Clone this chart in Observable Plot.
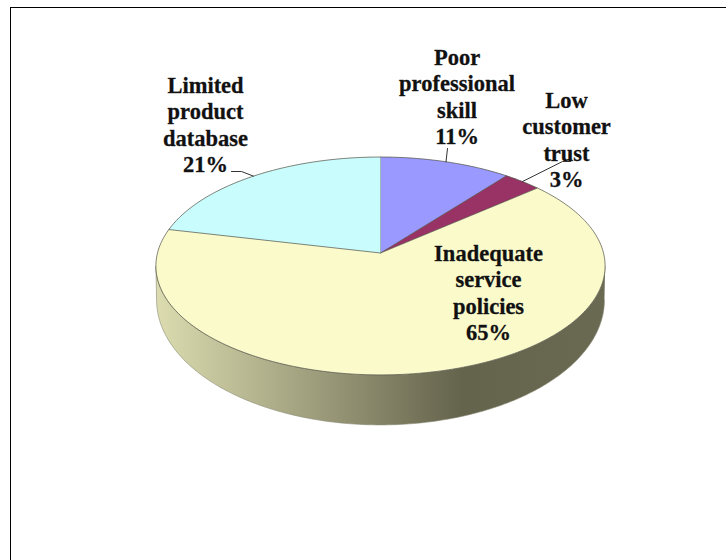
<!DOCTYPE html>
<html>
<head>
<meta charset="utf-8">
<style>html,body{margin:0;padding:0;background:#fff}svg{display:block}</style>
<script src="https://cdn.jsdelivr.net/npm/d3@7"></script>
<script src="https://cdn.jsdelivr.net/npm/@observablehq/plot@0.6"></script>
</head>
<body>
<div id="chart"></div>
<script>
// Data, clockwise from twelve o'clock (printed labels are the rounded shares)
const categories = ["Poor\nprofessional\nskill", "Low\ncustomer\ntrust", "Inadequate\nservice\npolicies", "Limited\nproduct\ndatabase"];
const shares = [10.6, 3.1, 64.9, 21.4];
const sliceColors = ["#9999ff", "#993366", "#fbfacb", "#c9fcfc"];

// Layout: label centres and leader elbows, in the chart's canvas units
const labelX = [456.5, 566, 488, 205];
const labelY = [95.5, 138.5, 291.5, 123.5];
const leaderStart = [[447, 148], [570, 161, 562, 161], null, [231, 171, 241, 171]];

// 3D disc projection
const cx = 380, cy = 252.5, rx = 223, ryk = 107.4, tilt = 0.119, depthFront = 50, depthSide = 34;
const project = (share) => {
  const t = share / 100 * 2 * Math.PI;
  const X = Math.sin(t), Y = Math.cos(t), d = 1 + tilt * Y;
  return [cx + rx * X / d, cy - ryk * Y / d];
};

const cumulative = d3.cumsum(shares);
const sliceRows = categories.flatMap((name, i) => {
  const start = i ? cumulative[i - 1] : 0, end = cumulative[i];
  const pts = [[cx, cy]];
  const n = Math.ceil((end - start) * 4);
  for (let j = 0; j <= n; ++j) pts.push(project(start + (end - start) * j / n));
  return pts.map(([x, y]) => ({name, x, y}));
});

// front wall: rim between the two horizontal extremes, and the lower rim of the disc
const frontFrom = Math.acos(-tilt) / (2 * Math.PI) * 100, frontTo = 100 - frontFrom;
const rim = d3.range(0, 201).map(j => project(frontFrom + (frontTo - frontFrom) * j / 200));
const rimSideY = rim[0][1], rimFrontY = project(50)[1];
const lower = ([x, y]) => ({
  x: cx + (x - cx) * 0.997,
  y: y + depthSide + (y - rimSideY) * (depthFront - depthSide) / (rimFrontY - rimSideY)
});
const wallRows = [...rim.map(([x, y]) => ({x, y})), ...rim.slice().reverse().map(lower)];

const leaderRows = shares.flatMap((s, i) => {
  if (!leaderStart[i]) return [];
  const mid = (i ? cumulative[i - 1] : 0) + s / 2;
  const [ex, ey] = project(mid);
  const p = leaderStart[i], rows = [];
  for (let k = 0; k < p.length; k += 2) rows.push({i, x: p[k], y: p[k + 1]});
  rows.push({i, x: ex, y: ey});
  return rows;
});

const labelRows = categories.map((name, i) => ({
  text: `${name}\n${Math.round(shares[i])}%`, x: labelX[i], y: labelY[i]
}));

const defs = () => {
  const d = d3.create("svg:defs");
  const g = d.append("linearGradient").attr("id", "wallShade");
  [[0, "#dcdcb0"], [0.68, "#64634c"], [1, "#6a6952"]].forEach(([o, c]) =>
    g.append("stop").attr("offset", o).attr("stop-color", c));
  return d.node();
};

const chart = Plot.plot({
  width: 726, height: 560,
  marginTop: 0, marginRight: 0, marginBottom: 0, marginLeft: 0,
  style: {background: "#fff"},
  x: {domain: [0, 726], range: [0, 726], axis: null},
  y: {domain: [0, 560], range: [0, 560], axis: null},
  color: {domain: categories, range: sliceColors},
  marks: [
    defs,
    Plot.ruleX([10], {y1: 7, y2: 560, stroke: "#000", strokeWidth: 1}),
    Plot.ruleY([7], {x1: 10, x2: 726, stroke: "#000", strokeWidth: 1}),
    Plot.line(wallRows, {x: "x", y: "y", fill: "url(#wallShade)", stroke: "#8a8a76", strokeWidth: 0.6}),
    Plot.line(sliceRows, {x: "x", y: "y", z: "name", fill: "name", stroke: "#4d4d44", strokeWidth: 0.7}),
    Plot.line(leaderRows, {x: "x", y: "y", z: "i", stroke: "#333", strokeWidth: 1}),
    Plot.text(labelRows, {
      x: "x", y: "y", text: "text", lineHeight: 1.17,
      fontFamily: "Liberation Serif", fontWeight: "bold", fontSize: 22.5,
      fill: "#111", stroke: "#333", strokeWidth: 0.3, textAnchor: "middle", lineAnchor: "middle"
    })
  ]
});
document.getElementById("chart").append(chart);
</script>
</body>
</html>
